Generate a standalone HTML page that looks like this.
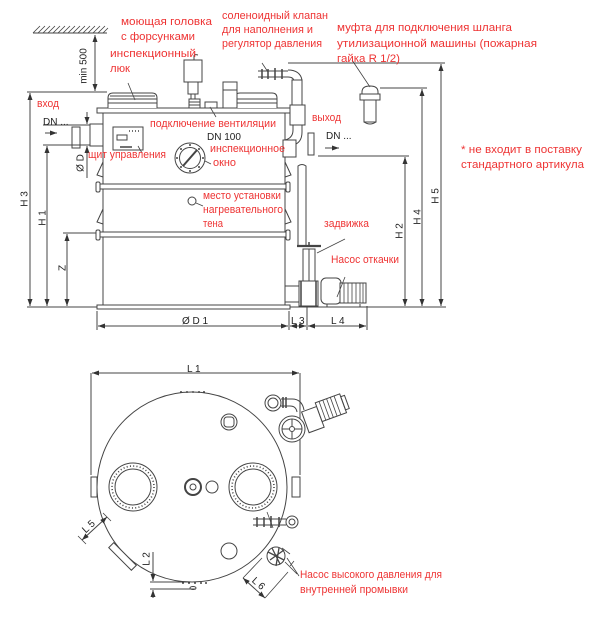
<!DOCTYPE html>
<html><head><meta charset="utf-8">
<style>
html,body{margin:0;padding:0;background:#fff;}
svg{display:block;}
.r{fill:#ee3333;font-family:"Liberation Sans","DejaVu Sans",sans-serif;font-size:11px;}
.k{fill:#222;font-family:"Liberation Sans","DejaVu Sans",sans-serif;font-size:10px;}
</style></head><body>
<svg width="600" height="621" viewBox="0 0 600 621" xmlns="http://www.w3.org/2000/svg">
<defs>
<marker id="a" viewBox="0 0 7 5" refX="7" refY="2.5" markerWidth="7" markerHeight="5" orient="auto-start-reverse" markerUnits="userSpaceOnUse"><path d="M0,0 L7,2.5 L0,5z" fill="#333"/></marker>
</defs>
<rect width="600" height="621" fill="#fff"/>

<g stroke="#444" stroke-width="1" fill="none">
<!-- ceiling -->
<line x1="33" y1="33" x2="107" y2="33"/>
<path d="M33 33l7-7M38 33l7-7M43 33l7-7M48 33l7-7M53 33l7-7M58 33l7-7M63 33l7-7M68 33l7-7M73 33l7-7M78 33l7-7M83 33l7-7M88 33l7-7M93 33l7-7M98 33l7-7M103 33l5-5" stroke-width="0.8"/>
<line x1="95" y1="35" x2="95" y2="91" marker-start="url(#a)" marker-end="url(#a)"/>
<line x1="27" y1="92" x2="107" y2="92"/>

<!-- left dims -->
<line x1="30" y1="93" x2="30" y2="306" marker-start="url(#a)" marker-end="url(#a)"/>
<line x1="47" y1="146" x2="47" y2="306" marker-start="url(#a)" marker-end="url(#a)"/>
<line x1="67" y1="234" x2="67" y2="306" marker-start="url(#a)" marker-end="url(#a)"/>
<line x1="63" y1="233" x2="96" y2="233"/>
<line x1="27" y1="307" x2="97" y2="307"/>
<line x1="43" y1="125" x2="90" y2="125"/>
<line x1="43" y1="145" x2="90" y2="145"/>
<line x1="87" y1="112" x2="87" y2="124" marker-end="url(#a)"/>
<line x1="87" y1="178" x2="87" y2="146" marker-end="url(#a)"/>
<!-- inlet -->
<line x1="45" y1="133" x2="57" y2="133" marker-end="url(#a)"/>
<rect x="72" y="127" width="8" height="21"/>
<rect x="90" y="124" width="13" height="22"/>

<!-- tank body -->
<line x1="103" y1="113" x2="103" y2="305"/>
<line x1="285" y1="113" x2="285" y2="305"/>
<rect x="97" y="108" width="193" height="5" fill="#fff"/>
<rect x="97" y="305" width="193" height="4" fill="#fff"/>
<rect x="99" y="184" width="188" height="5" fill="#fff"/>
<rect x="96" y="182" width="4" height="10" rx="1.5" fill="#fff"/>
<rect x="286" y="182" width="4" height="10" rx="1.5" fill="#fff"/>
<rect x="99" y="232" width="188" height="5" fill="#fff"/>
<rect x="96" y="230" width="4" height="10" rx="1.5" fill="#fff"/>
<rect x="286" y="230" width="4" height="10" rx="1.5" fill="#fff"/>
<path d="M103 162L97 175L103 177M103 209L97 222L103 224M285 162L291 175L285 177M285 209L291 222L285 224"/>

<!-- hatches on lid -->
<path d="M108 108V98Q108 93 113 93H152Q157 93 157 98V108M108 99H157M108 103H157M110 96H155" fill="#fff"/>
<path d="M235 108V98Q235 93 240 93H272Q277 93 277 98V108M235 99H277M235 103H277" fill="#fff"/>
<rect x="223" y="82" width="14" height="26" fill="#fff"/>
<line x1="223" y1="90" x2="237" y2="90"/>
<rect x="205" y="102" width="12" height="6" fill="#fff"/>
<!-- washing head -->
<rect x="184" y="60" width="18" height="22" fill="#fff"/>
<path d="M194 60V56Q194 54 198 55"/>
<rect x="188" y="82" width="10" height="12"/>
<line x1="191" y1="94" x2="191" y2="99"/><line x1="195" y1="94" x2="195" y2="99"/>
<rect x="189" y="99" width="11" height="9" fill="#fff"/>
<path d="M189 102H200M189 105H200"/>

<!-- control panel -->
<rect x="113" y="127" width="30" height="23" fill="#fff"/>
<rect x="117" y="135" width="10" height="5"/>
<path d="M129 131h1M132 131h1M135 131h1M138 131h1M120 147h12" stroke-width="1.4"/>

<!-- inspection window -->
<circle cx="190" cy="158" r="15" fill="#fff"/>
<circle cx="190" cy="158" r="10.5"/>
<line x1="183" y1="166" x2="197" y2="150" stroke-width="2"/>
<g fill="#444" stroke="none">
<circle cx="190" cy="145" r="1"/><circle cx="190" cy="171" r="1"/><circle cx="177" cy="158" r="1"/><circle cx="203" cy="158" r="1"/>
<circle cx="181" cy="149" r="1"/><circle cx="199" cy="149" r="1"/><circle cx="181" cy="167" r="1"/><circle cx="199" cy="167" r="1"/>
</g>
<circle cx="192" cy="201" r="4"/>

<!-- solenoid + pipe top right -->
<path d="M258 71H288M258 77H288" stroke-width="1"/>
<path d="M262 69v10M268 69v10M275 68v12M282 69v10" stroke-width="1.5"/>
<path d="M288 70Q300 70 302 80M288 77Q294 77 294 82"/>
<rect x="292" y="80" width="10" height="25" fill="#fff"/>
<rect x="290" y="105" width="15" height="20" fill="#fff"/>
<path d="M293 125V130Q293 138 285 140M302 125V132Q302 143 293 145"/>
<rect x="283" y="140" width="13" height="17" fill="#fff"/>
<!-- outlet -->
<rect x="308" y="133" width="6" height="22"/>
<line x1="325" y1="148" x2="339" y2="148" marker-end="url(#a)"/>
<!-- discharge pipe -->
<path d="M298 245V166Q302 163 306 166V245"/>
<!-- gate valve & pump -->
<path d="M297 246H321" stroke-width="2.2"/>
<line x1="309" y1="242" x2="309" y2="247" stroke-width="1.5"/>
<rect x="303" y="249" width="12" height="33" fill="#fff"/>
<line x1="309" y1="249" x2="309" y2="282"/>
<rect x="285" y="286" width="15" height="16" fill="#fff"/>
<rect x="299" y="281" width="19" height="25" fill="#fff"/>
<path d="M301 281v25M316 281v25" stroke-width="1.5"/>
<rect x="321" y="278" width="20" height="26" rx="5" fill="#fff"/>
<rect x="340" y="283" width="26" height="20" fill="#fff"/>
<path d="M344 283v20M348 283v20M352 283v20M356 283v20M360 283v20M363 283v20" stroke-width="0.8"/>
<path d="M327 304v3M360 304v3"/>

<!-- coupling -->
<path d="M362 92Q362 86 370 86Q378 86 378 92V100H362Z" fill="#fff"/>
<rect x="360" y="94" width="20" height="6" fill="#fff"/>
<rect x="364" y="100" width="12" height="22" fill="#fff"/>
<path d="M364 122Q370 126 376 122"/>

<!-- right dims -->
<line x1="288" y1="63" x2="445" y2="63"/>
<line x1="380" y1="88" x2="427" y2="88"/>
<line x1="318" y1="156" x2="409" y2="156"/>
<line x1="290" y1="307" x2="446" y2="307"/>
<line x1="441" y1="64" x2="441" y2="306" marker-start="url(#a)" marker-end="url(#a)"/>
<line x1="422" y1="89" x2="422" y2="306" marker-start="url(#a)" marker-end="url(#a)"/>
<line x1="405" y1="157" x2="405" y2="306" marker-start="url(#a)" marker-end="url(#a)"/>

<!-- bottom dims side view -->
<path d="M97 311V330M289 311V330M307 306V330M367 306V330"/>
<line x1="98" y1="326" x2="288" y2="326" marker-start="url(#a)" marker-end="url(#a)"/>
<line x1="290" y1="326" x2="306" y2="326" marker-start="url(#a)" marker-end="url(#a)"/>
<line x1="308" y1="326" x2="366" y2="326" marker-start="url(#a)" marker-end="url(#a)"/>

<!-- leaders -->
<path d="M128 83L135 100M262 63L268 72M352 60L370 87M210 107L216 117M138 146L142 153M205 161L211 164M196 203L203 206M345 239L317 253M345 277L337 297" stroke-width="0.8"/>

<!-- ===== bottom view ===== -->
<circle cx="192" cy="487" r="95" fill="#fff"/>
<line x1="92" y1="373" x2="299" y2="373" marker-start="url(#a)" marker-end="url(#a)"/>
<line x1="91" y1="373" x2="91" y2="475"/>
<line x1="300" y1="373" x2="300" y2="475"/>
<rect x="91" y="477" width="6" height="20" fill="#fff"/>
<rect x="292" y="477" width="8" height="20" fill="#fff"/>
<path d="M180 392h2M186 392h2M192 392h2M198 392h2M203 392h2M182 583h2M188 583h2M194 583h2M200 583h2M205 583h2" stroke-width="1.5"/>
<ellipse cx="193" cy="588" rx="3" ry="1.5"/>
<!-- manholes -->
<circle cx="133" cy="487" r="24"/><circle cx="133" cy="487" r="18"/>
<circle cx="133" cy="487" r="21" stroke-dasharray="1 2.3" stroke-width="1.6"/>
<circle cx="253" cy="487" r="24"/><circle cx="253" cy="487" r="18"/>
<circle cx="253" cy="487" r="21" stroke-dasharray="1 2.3" stroke-width="1.6"/>
<circle cx="193" cy="487" r="8" stroke-width="2"/><circle cx="193" cy="487" r="3"/>
<circle cx="212" cy="487" r="6"/>
<circle cx="229" cy="422" r="8"/><rect x="224" y="417" width="10" height="10" rx="3"/>
<circle cx="229" cy="551" r="8"/>
<!-- eye ring + elbow -->
<circle cx="273" cy="403" r="8"/><circle cx="273" cy="403" r="5"/>
<path d="M281 399H292Q302 399 304 410M281 406H290Q296 406 297 412"/>
<path d="M283 397v11M286 397v11" stroke-width="1.5"/>
<!-- handwheel -->
<circle cx="292" cy="429" r="13" fill="#fff"/>
<circle cx="292" cy="429" r="10"/>
<circle cx="292" cy="429" r="2.5"/>
<path d="M292 419v7M292 432v7M282 429h7M295 429h7"/>
<!-- pump top view -->
<g transform="rotate(-20 325 412)">
<rect x="303" y="404" width="16" height="22" fill="#fff"/>
<rect x="319" y="400" width="26" height="20" fill="#fff"/>
<path d="M323 400v20M327 400v20M331 400v20M335 400v20M339 400v20" stroke-width="0.8"/>
<rect x="345" y="403" width="4" height="14"/>
</g>
<!-- solenoid top view -->
<path d="M253 519H286M253 525H286"/>
<path d="M257 517v10M264 517v10M271 516v12M279 517v10" stroke-width="1.5"/>
<circle cx="292" cy="522" r="6"/><circle cx="292" cy="522" r="3"/>
<line x1="267" y1="512" x2="273" y2="528" stroke-width="0.8"/>
<!-- HP pump -->
<circle cx="276" cy="556" r="9"/>
<path d="M268 552l16 8M270 560l14-10M272 548l8 16M279 548l-3 18" stroke-width="1.3"/>
<path d="M282 548l8 6M285 562l12 12M290 566l4 -5M287 558l12 18" stroke-width="0.8"/>
<!-- bottom-left stub -->
<g transform="rotate(45 125 554)">
<rect x="109" y="554" width="32" height="7" fill="#fff"/>
</g>
<line x1="82" y1="540" x2="107" y2="517" marker-start="url(#a)" marker-end="url(#a)"/>
<path d="M78 536l8 8M103 513l8 8" stroke-width="0.8"/>
<!-- L2 -->
<line x1="153" y1="552" x2="153" y2="581" marker-end="url(#a)"/>
<line x1="153" y1="598" x2="153" y2="590" marker-end="url(#a)"/>
<path d="M150 582H190M150 589H196"/>
<!-- L6 -->
<line x1="243" y1="578" x2="265" y2="598" marker-start="url(#a)" marker-end="url(#a)"/>
<path d="M265 598L288 572M243 578L262 558" stroke-width="0.8"/>
</g>

<!-- black dimension text -->
<text class="k" transform="translate(84 66) rotate(-90)" text-anchor="middle" dominant-baseline="central">min 500</text>
<text class="k" transform="translate(25 199) rotate(-90)" text-anchor="middle" dominant-baseline="central">H 3</text>
<text class="k" transform="translate(43 218) rotate(-90)" text-anchor="middle" dominant-baseline="central">H 1</text>
<text class="k" transform="translate(63 268) rotate(-90)" text-anchor="middle" dominant-baseline="central">Z</text>
<text class="k" transform="translate(81 163) rotate(-90)" text-anchor="middle" dominant-baseline="central">Ø D</text>
<text class="k" transform="translate(400 231) rotate(-90)" text-anchor="middle" dominant-baseline="central">H 2</text>
<text class="k" transform="translate(418 217) rotate(-90)" text-anchor="middle" dominant-baseline="central">H 4</text>
<text class="k" transform="translate(436 196) rotate(-90)" text-anchor="middle" dominant-baseline="central">H 5</text>
<text class="k" x="182" y="324">Ø D 1</text>
<text class="k" x="291" y="324">L 3</text>
<text class="k" x="331" y="324">L 4</text>
<text class="k" x="187" y="372">L 1</text>
<text class="k" transform="translate(147 559) rotate(-90)" text-anchor="middle" dominant-baseline="central">L 2</text>
<text class="k" transform="translate(89 527) rotate(-43)" text-anchor="middle" dominant-baseline="central">L 5</text>
<text class="k" transform="translate(258 584) rotate(42)" text-anchor="middle" dominant-baseline="central">L 6</text>
<text class="k" x="43" y="125" font-size="11">DN ...</text>
<text class="k" x="326" y="139" font-size="11">DN ...</text>
<text class="k" x="207" y="140" font-size="11">DN 100</text>

<!-- red labels -->
<text class="r" x="121" y="25" font-size="12" textLength="91" lengthAdjust="spacingAndGlyphs">моющая головка</text>
<text class="r" x="121" y="40" font-size="12" textLength="74" lengthAdjust="spacingAndGlyphs">с форсунками</text>
<text class="r" x="110" y="57" font-size="12" textLength="86" lengthAdjust="spacingAndGlyphs">инспекционный</text>
<text class="r" x="110" y="72" font-size="12" textLength="20" lengthAdjust="spacingAndGlyphs">люк</text>
<text class="r" x="222" y="19" textLength="106" lengthAdjust="spacingAndGlyphs">соленоидный клапан</text>
<text class="r" x="222" y="33" textLength="91" lengthAdjust="spacingAndGlyphs">для наполнения и</text>
<text class="r" x="222" y="47" textLength="100" lengthAdjust="spacingAndGlyphs">регулятор давления</text>
<text class="r" x="337" y="31" font-size="11.5" textLength="175" lengthAdjust="spacingAndGlyphs">муфта для подключения шланга</text>
<text class="r" x="337" y="47" font-size="11.5" textLength="200" lengthAdjust="spacingAndGlyphs">утилизационной машины (пожарная</text>
<text class="r" x="337" y="62" font-size="11.5" textLength="63" lengthAdjust="spacingAndGlyphs">гайка R 1/2)</text>
<text class="r" x="37" y="107" font-size="10" textLength="22" lengthAdjust="spacingAndGlyphs">вход</text>
<text class="r" x="312" y="121" font-size="10" textLength="29" lengthAdjust="spacingAndGlyphs">выход</text>
<text class="r" x="150" y="127" textLength="126" lengthAdjust="spacingAndGlyphs">подключение вентиляции</text>
<text class="r" x="210" y="152" textLength="75" lengthAdjust="spacingAndGlyphs">инспекционное</text>
<text class="r" x="213" y="166" textLength="23" lengthAdjust="spacingAndGlyphs">окно</text>
<text class="r" x="88" y="158" textLength="78" lengthAdjust="spacingAndGlyphs">щит управления</text>
<text class="r" x="461" y="153" textLength="121" lengthAdjust="spacingAndGlyphs">* не входит в поставку</text>
<text class="r" x="461" y="168" textLength="123" lengthAdjust="spacingAndGlyphs">стандартного артикула</text>
<text class="r" x="203" y="199" textLength="78" lengthAdjust="spacingAndGlyphs">место установки</text>
<text class="r" x="203" y="213" textLength="80" lengthAdjust="spacingAndGlyphs">нагревательного</text>
<text class="r" x="203" y="227" textLength="20" lengthAdjust="spacingAndGlyphs">тена</text>
<text class="r" x="324" y="227" textLength="45" lengthAdjust="spacingAndGlyphs">задвижка</text>
<text class="r" x="331" y="263" textLength="68" lengthAdjust="spacingAndGlyphs">Насос откачки</text>
<text class="r" x="300" y="578" font-size="10.5" textLength="142" lengthAdjust="spacingAndGlyphs">Насос высокого давления для</text>
<text class="r" x="300" y="593" font-size="10.5" textLength="108" lengthAdjust="spacingAndGlyphs">внутренней промывки</text>
</svg>
</body></html>
